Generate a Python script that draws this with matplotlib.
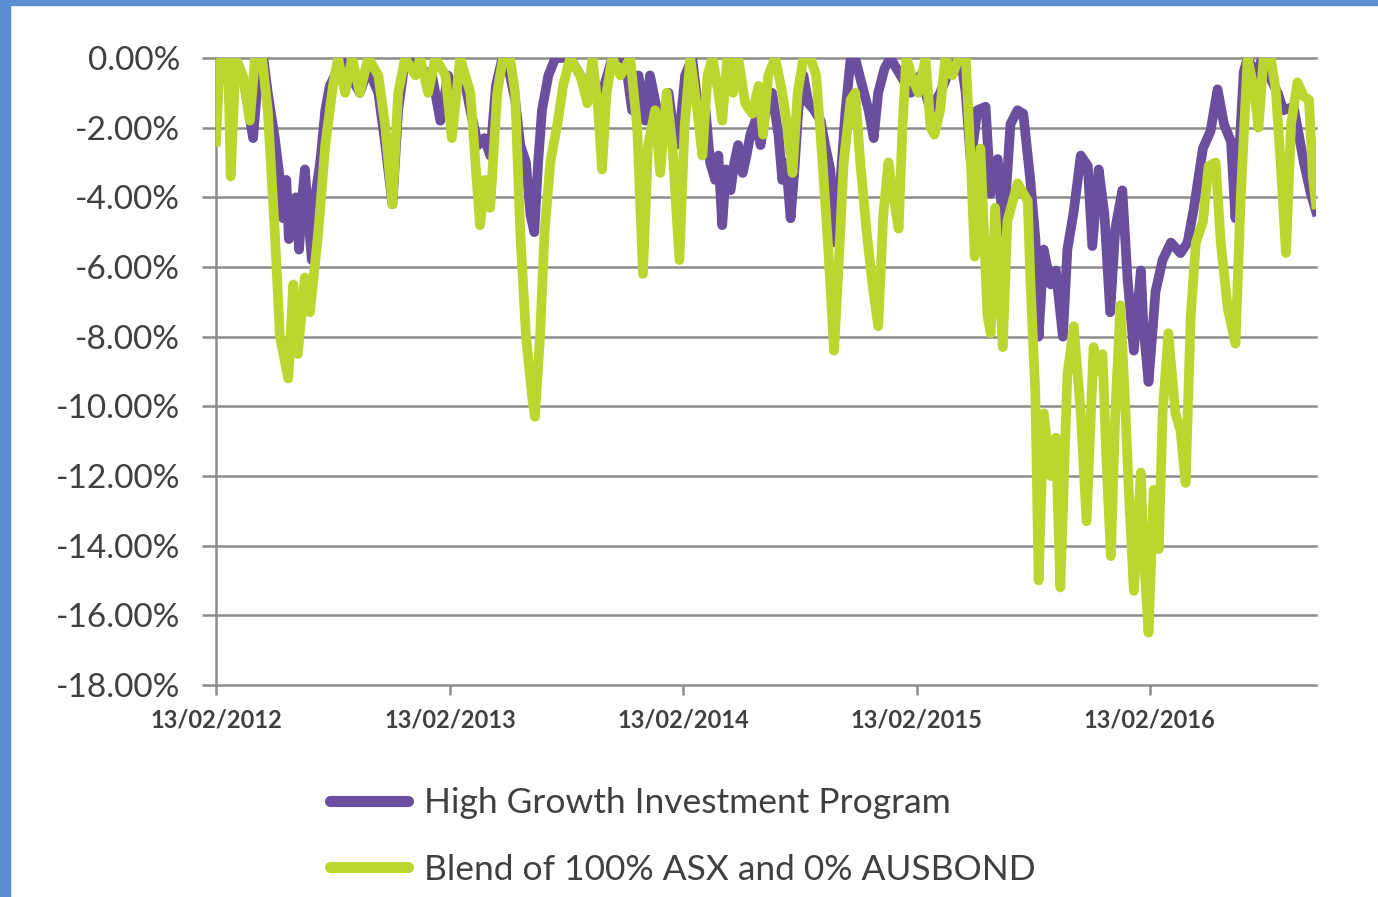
import matplotlib.pyplot as plt
import matplotlib.dates as mdates
from matplotlib.patches import Rectangle
import pandas as pd

start = pd.Timestamp('2012-02-13')

# High Growth Investment Program drawdown (days since 13/02/2012, %)
hg_days = [0, 6, 19, 23, 31, 45, 58, 66, 74, 81, 92, 100, 105, 110, 114, 119,
           125, 130, 135, 139, 144, 150, 155, 163, 171, 178, 186, 194, 210, 225,
           238, 254, 265, 276, 285, 296, 319, 338, 351, 363, 374, 385, 398, 410,
           420, 429, 438, 448, 460, 468, 476, 485, 492, 498, 504, 510, 520, 531,
           554, 570, 586, 601, 620, 640, 651, 661, 672, 679, 690, 700, 708, 719,
           726, 734, 745, 758, 766, 773, 781, 786, 792, 798, 805, 811, 817, 824,
           830, 836, 844, 852, 860, 870, 880, 886, 892, 899, 905, 911, 919, 927,
           936, 946, 953, 961, 969, 977, 985, 993, 1000, 1011, 1021, 1029, 1036,
           1046, 1055, 1071, 1087, 1102, 1118, 1133, 1149, 1165, 1173, 1181, 1191,
           1204, 1212, 1223, 1232, 1243, 1254, 1263, 1274, 1282, 1287, 1295, 1306,
           1314, 1325, 1332, 1342, 1353, 1364, 1371, 1381, 1390, 1399, 1407, 1418,
           1426, 1436, 1447, 1451, 1459, 1470, 1481, 1494, 1509, 1520, 1530, 1544,
           1556, 1567, 1577, 1588, 1595, 1608, 1614, 1627, 1637, 1650, 1661, 1670,
           1686, 1702, 1713, 1721]
hg_vals = [-1.8, 0.0, -0.5, -1.8, 0.0, -0.8, -2.3, -0.5, 0.0, -1.0, -2.3, -3.5,
           -4.6, -3.5, -5.2, -4.2, -4.0, -5.5, -4.0, -3.2, -4.5, -5.8, -4.0, -3.0,
           -1.5, -0.8, -0.5, 0.0, -0.5, -1.0, -0.3, -1.0, -2.5, -4.2, -1.5, 0.0,
           -0.3, -0.5, -1.8, -0.5, -1.0, -0.3, -1.5, -2.5, -2.3, -2.8, -0.8, 0.0,
           -0.5, -1.2, -2.5, -3.0, -4.5, -5.0, -3.0, -1.5, -0.5, 0.0, 0.0, -0.5,
           -1.0, -1.2, 0.0, 0.0, -1.5, -0.5, -1.8, -0.5, -1.5, -2.0, -1.0, -2.5,
           -2.0, -0.5, 0.0, -2.0, -1.5, -3.0, -3.5, -2.8, -4.8, -3.2, -3.8, -3.0,
           -2.5, -3.3, -2.8, -2.2, -1.8, -2.5, -1.5, -1.0, -2.2, -3.5, -3.0, -4.6,
           -3.2, -1.5, -0.5, -1.3, -1.5, -1.8, -2.5, -3.2, -5.3, -3.5, -1.5, 0.0,
           0.0, -0.8, -1.5, -2.3, -1.0, -0.3, 0.0, -0.5, -1.0, -0.5, -1.5, -1.0,
           -0.3, 0.0, -1.0, -3.0, -1.5, -1.4, -3.9, -2.9, -5.0, -1.9, -1.5, -1.6,
           -3.5, -5.2, -8.0, -5.5, -6.5, -6.1, -8.0, -5.5, -4.4, -2.8, -3.1, -5.4,
           -3.2, -4.5, -7.3, -4.9, -3.8, -6.3, -8.4, -6.1, -7.7, -9.3, -6.7, -5.8,
           -5.3, -5.6, -5.3, -4.3, -2.6, -2.1, -0.9, -1.9, -2.4, -4.6, -0.4, 0.0,
           -0.5, 0.0, -0.6, -1.0, -1.5, -1.4, -3.0, -3.9, -4.4]

# Blend of 100% ASX and 0% AUSBOND drawdown (days since 13/02/2012, %)
bl_days = [0, 6, 19, 23, 31, 42, 53, 61, 72, 81, 92, 100, 113, 121, 128, 139,
           147, 160, 171, 183, 191, 202, 213, 225, 238, 254, 265, 276, 285, 296,
           312, 319, 332, 343, 359, 369, 382, 398, 413, 421, 429, 440, 449, 460,
           468, 476, 485, 495, 499, 507, 514, 523, 535, 543, 554, 570, 581, 589,
           598, 604, 611, 620, 633, 648, 659, 668, 676, 687, 695, 705, 714, 725,
           733, 742, 753, 761, 769, 777, 786, 792, 800, 809, 817, 828, 839, 849,
           856, 864, 875, 886, 894, 902, 910, 919, 930, 939, 949, 958, 967, 974,
           982, 993, 1000, 1008, 1018, 1027, 1036, 1044, 1052, 1060, 1068, 1074,
           1080, 1090, 1099, 1110, 1118, 1124, 1133, 1141, 1152, 1162, 1173, 1181,
           1187, 1196, 1207, 1212, 1219, 1231, 1238, 1254, 1270, 1274, 1282, 1287,
           1295, 1306, 1314, 1321, 1332, 1342, 1353, 1362, 1373, 1379, 1387, 1393,
           1400, 1407, 1415, 1423, 1428, 1436, 1447, 1451, 1459, 1467, 1475, 1481,
           1490, 1501, 1509, 1517, 1525, 1533, 1544, 1553, 1564, 1572, 1583, 1595,
           1603, 1614, 1624, 1631, 1639, 1650, 1658, 1666, 1674, 1682, 1692, 1702,
           1710, 1716, 1721]
bl_vals = [-2.4, 0.0, 0.0, -3.4, 0.0, -0.5, -1.8, 0.0, 0.0, -1.5, -5.0, -8.0,
           -9.2, -6.5, -8.5, -6.3, -7.3, -5.0, -2.5, -0.8, 0.0, -1.0, 0.0, -1.0,
           0.0, -0.5, -2.0, -4.2, -1.0, 0.0, -0.5, 0.0, -1.0, 0.0, -0.5, -2.3,
           0.0, -1.0, -4.8, -3.5, -4.3, -1.0, 0.0, 0.0, -1.0, -5.0, -8.0, -9.8,
           -10.3, -8.0, -5.0, -3.0, -1.8, -0.8, 0.0, -0.5, -1.3, 0.0, -1.5, -3.2,
           -1.0, 0.0, -0.5, 0.0, -2.0, -6.2, -2.5, -1.5, -3.3, -1.0, -2.5, -5.8,
           -2.0, 0.0, -1.5, -2.8, -0.5, 0.0, -1.0, -1.8, 0.0, -1.0, 0.0, -1.3,
           -1.6, -0.8, -2.2, -0.5, 0.0, -1.0, -2.0, -3.3, -1.0, 0.0, 0.0, -0.5,
           -3.0, -5.5, -8.4, -6.0, -3.0, -1.2, -1.0, -3.0, -5.0, -6.5, -7.7, -4.5,
           -3.0, -4.0, -4.9, -2.0, 0.0, -0.6, -1.0, 0.0, -2.0, -2.2, -1.5, 0.0,
           -0.5, 0.0, 0.0, -3.0, -5.7, -2.6, -7.4, -7.9, -4.3, -8.3, -4.7, -3.6,
           -4.1, -6.3, -9.7, -15.0, -10.2, -12.0, -10.9, -15.2, -9.1, -7.7, -10.2,
           -13.3, -8.3, -9.0, -8.5, -11.5, -14.3, -10.2, -7.1, -10.2, -12.4, -15.3,
           -11.9, -14.1, -16.5, -12.4, -14.1, -10.2, -7.9, -10.2, -10.7, -12.2,
           -7.4, -5.3, -4.7, -3.1, -3.0, -5.3, -7.2, -8.2, -4.1, 0.0, -0.9, -2.0,
           0.0, 0.0, -0.9, -3.1, -5.6, -1.9, -0.7, -1.1, -1.2, -3.4, -4.2]

series_names = ['High Growth Investment Program', 'Blend of 100% ASX and 0% AUSBOND']
series_colors = ['#6a4f9f', '#bcd630']

y_ticks = [0, -2, -4, -6, -8, -10, -12, -14, -16, -18]
x_tick_dates = ['2012-02-13', '2013-02-13', '2014-02-13', '2015-02-13', '2016-02-13']

hg_dates = start + pd.to_timedelta(hg_days, unit='D')
bl_dates = start + pd.to_timedelta(bl_days, unit='D')

fig = plt.figure(figsize=(13.78, 8.97), dpi=100)
fig.patch.set_facecolor('white')
# blue frame round the picture
fig.add_artist(Rectangle((0, 0), 10 / 1378, 1, transform=fig.transFigure,
                         color='#5b8dd3', zorder=0))
fig.add_artist(Rectangle((0, 1 - 5 / 897), 1, 5 / 897, transform=fig.transFigure,
                         color='#5b8dd3', zorder=0))

ax = fig.add_axes([216 / 1378, 1 - 685 / 897, 1100 / 1378, 627 / 897])

grid_col = '#8c8c8c'
for v in y_ticks:
    ax.axhline(v, color=grid_col, lw=1.8, zorder=1, clip_on=False)

ax.plot(hg_dates, hg_vals, color=series_colors[0], lw=7, zorder=3,
        solid_joinstyle='round', label=series_names[0])
ax.plot(bl_dates, bl_vals, color=series_colors[1], lw=7, zorder=4,
        solid_joinstyle='round', label=series_names[1])

ax.set_ylim(-18, 0)
ax.set_xlim(start, start + pd.Timedelta(days=1721))

for s in ['top', 'right', 'bottom']:
    ax.spines[s].set_visible(False)
ax.spines['left'].set_color(grid_col)
ax.spines['left'].set_linewidth(1.8)

ax.set_yticks(y_ticks)
ax.set_yticklabels(['%.2f%%' % v for v in y_ticks], fontsize=24,
                   family='Lato', color='#404040')
ax.tick_params(axis='y', length=10, width=1.8, color=grid_col, pad=16)

ax.set_xticks(pd.to_datetime(x_tick_dates))
ax.xaxis.set_major_formatter(mdates.DateFormatter('%d/%m/%Y'))
ax.tick_params(axis='x', length=7, width=1.8, color=grid_col, pad=10)
for t in ax.get_xticklabels():
    t.set_fontsize(17)
    t.set_family('Lato')
    t.set_fontweight('bold')
    t.set_color('#404040')

fig.legend(loc='upper left', bbox_to_anchor=(330 / 1378, 1 - 787 / 897),
           frameon=False, handlelength=2.2, handletextpad=0.45,
           labelspacing=0.98, borderpad=0, borderaxespad=0,
           prop={'family': 'Lato', 'size': 25.5})
leg = fig.legends[0]
for line in leg.get_lines():
    line.set_linewidth(8)
    line.set_solid_capstyle('round')
for t in leg.get_texts():
    t.set_color('#404040')

fig.savefig('out.png', dpi=100)
